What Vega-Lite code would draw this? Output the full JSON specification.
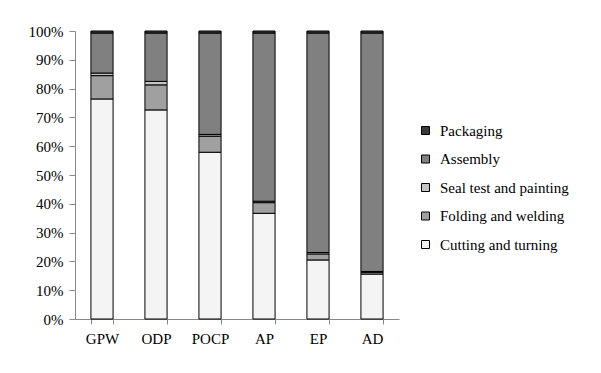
{
  "$schema": "https://vega.github.io/schema/vega-lite/v6.json",
  "autosize": {"type": "none"},
  "padding": {"left": 75, "top": 31, "right": 202, "bottom": 54},
  "width": 324,
  "height": 288,
  "background": "white",
  "data": {
    "values": [
      {"cat": "GPW", "stage": "Cutting and turning", "step": 1, "v": 76.4},
      {"cat": "GPW", "stage": "Folding and welding", "step": 2, "v": 8.1},
      {"cat": "GPW", "stage": "Seal test and painting", "step": 3, "v": 0.9},
      {"cat": "GPW", "stage": "Assembly", "step": 4, "v": 13.9},
      {"cat": "GPW", "stage": "Packaging", "step": 5, "v": 0.7},
      {"cat": "ODP", "stage": "Cutting and turning", "step": 1, "v": 72.6},
      {"cat": "ODP", "stage": "Folding and welding", "step": 2, "v": 8.7},
      {"cat": "ODP", "stage": "Seal test and painting", "step": 3, "v": 1.2},
      {"cat": "ODP", "stage": "Assembly", "step": 4, "v": 16.8},
      {"cat": "ODP", "stage": "Packaging", "step": 5, "v": 0.7},
      {"cat": "POCP", "stage": "Cutting and turning", "step": 1, "v": 57.9},
      {"cat": "POCP", "stage": "Folding and welding", "step": 2, "v": 5.6},
      {"cat": "POCP", "stage": "Seal test and painting", "step": 3, "v": 0.6},
      {"cat": "POCP", "stage": "Assembly", "step": 4, "v": 35.2},
      {"cat": "POCP", "stage": "Packaging", "step": 5, "v": 0.7},
      {"cat": "AP", "stage": "Cutting and turning", "step": 1, "v": 36.7},
      {"cat": "AP", "stage": "Folding and welding", "step": 2, "v": 3.7},
      {"cat": "AP", "stage": "Seal test and painting", "step": 3, "v": 0.5},
      {"cat": "AP", "stage": "Assembly", "step": 4, "v": 58.4},
      {"cat": "AP", "stage": "Packaging", "step": 5, "v": 0.7},
      {"cat": "EP", "stage": "Cutting and turning", "step": 1, "v": 20.5},
      {"cat": "EP", "stage": "Folding and welding", "step": 2, "v": 2.1},
      {"cat": "EP", "stage": "Seal test and painting", "step": 3, "v": 0.5},
      {"cat": "EP", "stage": "Assembly", "step": 4, "v": 76.2},
      {"cat": "EP", "stage": "Packaging", "step": 5, "v": 0.7},
      {"cat": "AD", "stage": "Cutting and turning", "step": 1, "v": 15.6},
      {"cat": "AD", "stage": "Folding and welding", "step": 2, "v": 0.6},
      {"cat": "AD", "stage": "Seal test and painting", "step": 3, "v": 0.3},
      {"cat": "AD", "stage": "Assembly", "step": 4, "v": 82.8},
      {"cat": "AD", "stage": "Packaging", "step": 5, "v": 0.7}
    ]
  },
  "mark": {"type": "bar", "stroke": "black", "strokeWidth": 1},
  "encoding": {
    "x": {
      "field": "cat",
      "type": "nominal",
      "sort": ["GPW", "ODP", "POCP", "AP", "EP", "AD"],
      "scale": {"paddingInner": 0.59, "paddingOuter": 0.295},
      "axis": {
        "title": null,
        "labelAngle": 0,
        "tickBand": "extent",
        "domainColor": "#888888",
        "tickColor": "#888888",
        "tickSize": 5,
        "labelFont": "Liberation Serif",
        "labelFontSize": 15,
        "labelColor": "black",
        "labelPadding": 7
      }
    },
    "y": {
      "field": "v",
      "type": "quantitative",
      "stack": "normalize",
      "scale": {"domain": [0, 1]},
      "axis": {
        "title": null,
        "format": ".0%",
        "values": [0, 0.1, 0.2, 0.3, 0.4, 0.5, 0.6, 0.7, 0.8, 0.9, 1],
        "grid": false,
        "domainColor": "#888888",
        "tickColor": "#888888",
        "tickSize": 6,
        "labelFont": "Liberation Serif",
        "labelFontSize": 15,
        "labelColor": "black",
        "labelPadding": 6
      }
    },
    "order": {"field": "step", "type": "quantitative", "sort": "ascending"},
    "color": {
      "field": "stage",
      "type": "nominal",
      "scale": {
        "domain": ["Packaging", "Assembly", "Seal test and painting", "Folding and welding", "Cutting and turning"],
        "range": ["#3a3a3a", "#808080", "#c4c4c4", "#a0a0a0", "#f4f4f4"]
      },
      "legend": {
        "title": null,
        "orient": "none",
        "legendX": 343,
        "legendY": 92,
        "symbolType": "square",
        "symbolSize": 64,
        "symbolStrokeColor": "black",
        "symbolStrokeWidth": 1,
        "rowPadding": 12.5,
        "labelOffset": 7,
        "labelFont": "Liberation Serif",
        "labelFontSize": 15,
        "labelColor": "black"
      }
    }
  },
  "config": {"view": {"stroke": null}}
}
